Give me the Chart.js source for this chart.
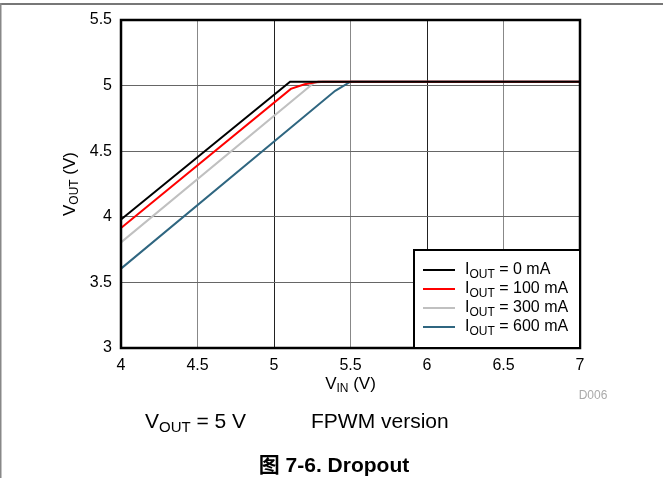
<!DOCTYPE html>
<html>
<head>
<meta charset="utf-8">
<script src="https://cdn.jsdelivr.net/npm/chart.js@4.4.1/dist/chart.umd.min.js"></script>
<style>
  html, body { margin: 0; padding: 0; background: #fff; }
  #wrap { width: 663px; height: 478px; }
</style>
</head>
<body>
<div id="wrap"><canvas id="dropout" width="663" height="478"></canvas></div>
<script>
// series data (VIN in V, VOUT in V)
const seriesLabels = ['0 mA', '100 mA', '300 mA', '600 mA'];
const seriesColors = ['#000000', '#ff0000', '#c0c0c0', '#2f6680'];

const vin0 = [4, 5.105, 7];
const vout0 = [3.98, 5.03, 5.03];
const vin100 = [4, 5.11, 5.2, 5.29, 7];
const vout100 = [3.915, 4.975, 5.01, 5.03, 5.03];
const vin300 = [4, 5.26, 5.32, 7];
const vout300 = [3.805, 5.02, 5.03, 5.03];
const vin600 = [4, 5.4, 5.5, 7];
const vout600 = [3.605, 4.96, 5.03, 5.03];

const xTicks = [4, 4.5, 5, 5.5, 6, 6.5, 7];
const yTicks = [3, 3.5, 4, 4.5, 5, 5.5];

const FONT = '"Liberation Sans", Arial, "Noto Sans CJK SC", sans-serif';

function toPoints(xs, ys) {
    return xs.map((x, i) => ({ x: x, y: ys[i] }));
}

// text with subscripts: parts = [[text, isSub], ...]
function drawRich(ctx, parts, x, y, align, size, bold) {
    const subSize = Math.round(size * 0.72);
    const w = bold ? 'bold ' : '';
    let total = 0;
    parts.forEach(p => {
        ctx.font = w + (p[1] ? subSize : size) + 'px ' + FONT;
        total += ctx.measureText(p[0]).width;
    });
    let cx = x;
    if (align === 'center') cx = x - total / 2;
    if (align === 'right') cx = x - total;
    ctx.textAlign = 'left';
    ctx.textBaseline = 'middle';
    parts.forEach(p => {
        ctx.font = w + (p[1] ? subSize : size) + 'px ' + FONT;
        ctx.fillText(p[0], cx, p[1] ? y + size * 0.28 : y);
        cx += ctx.measureText(p[0]).width;
    });
}

const pagePlugin = {
    id: 'page',
    beforeDraw(chart) {
        const ctx = chart.ctx;
        ctx.save();
        ctx.fillStyle = '#fff';
        ctx.fillRect(0, 0, chart.width, chart.height);
        ctx.fillStyle = '#777';
        ctx.fillRect(0, 3, chart.width, 2);
        ctx.fillStyle = '#888';
        ctx.fillRect(0, 3, 1.5, chart.height);
        ctx.restore();
    },
    afterDraw(chart) {
        const ctx = chart.ctx;
        const a = chart.chartArea;
        ctx.save();

        // plot frame
        ctx.strokeStyle = '#000';
        ctx.lineWidth = 2.5;
        ctx.strokeRect(a.left, a.top, a.right - a.left, a.bottom - a.top);

        // legend box, bottom right
        const lx = 414, ly = 250;
        ctx.fillStyle = '#fff';
        ctx.fillRect(lx, ly, a.right - lx, a.bottom - ly);
        ctx.lineWidth = 2;
        ctx.strokeRect(lx, ly, a.right - lx, a.bottom - ly);
        chart.data.datasets.forEach((ds, i) => {
            const ry = 270 + i * 19;
            ctx.strokeStyle = ds.borderColor;
            ctx.lineWidth = 2;
            ctx.beginPath();
            ctx.moveTo(423, ry);
            ctx.lineTo(455, ry);
            ctx.stroke();
            ctx.fillStyle = '#000';
            drawRich(ctx, [['I', false], ['OUT', true], [' = ' + seriesLabels[i], false]], 465, ry, 'left', 16);
        });

        // axis titles
        ctx.fillStyle = '#000';
        drawRich(ctx, [['V', false], ['IN', true], [' (V)', false]], (a.left + a.right) / 2, 384, 'center', 17);
        ctx.save();
        ctx.translate(70, (a.top + a.bottom) / 2);
        ctx.rotate(-Math.PI / 2);
        drawRich(ctx, [['V', false], ['OUT', true], [' (V)', false]], 0, 0, 'center', 17);
        ctx.restore();

        // figure id
        ctx.fillStyle = '#aaa';
        ctx.font = '12px ' + FONT;
        ctx.textAlign = 'center';
        ctx.textBaseline = 'middle';
        ctx.fillText('D006', 593, 396);

        // conditions and caption
        ctx.fillStyle = '#000';
        drawRich(ctx, [['V', false], ['OUT', true], [' = 5 V', false]], 145, 422, 'left', 21);
        drawRich(ctx, [['FPWM version', false]], 311, 422, 'left', 21);
        drawRich(ctx, [['图 7-6. Dropout', false]], 334, 466, 'center', 21, true);

        ctx.restore();
    }
};

const datasets = [
    toPoints(vin0, vout0),
    toPoints(vin100, vout100),
    toPoints(vin300, vout300),
    toPoints(vin600, vout600)
].map((pts, i) => ({
    label: 'IOUT = ' + seriesLabels[i],
    data: pts,
    borderColor: seriesColors[i],
    backgroundColor: seriesColors[i],
    borderWidth: 2,
    pointRadius: 0,
    showLine: true,
    tension: 0
}));

new Chart(document.getElementById('dropout').getContext('2d'), {
    type: 'scatter',
    data: { datasets: datasets },
    options: {
        responsive: false,
        animation: false,
        layout: { padding: { left: 0, top: 20, right: 83, bottom: 100 } },
        plugins: {
            legend: { display: false },
            tooltip: { enabled: false }
        },
        scales: {
            x: {
                type: 'linear',
                min: xTicks[0],
                max: xTicks[xTicks.length - 1],
                afterBuildTicks: s => { s.ticks = xTicks.map(v => ({ value: v })); },
                afterFit: s => { s.height = 30; },
                ticks: {
                    color: '#000',
                    padding: 8,
                    autoSkip: false,
                    maxRotation: 0,
                    font: { family: FONT, size: 16 },
                    callback: v => String(+v.toFixed(1))
                },
                grid: {
                    drawTicks: false,
                    color: c => (c.tick && Number.isInteger(c.tick.value)) ? '#222' : '#888',
                    lineWidth: 1
                },
                border: { display: false }
            },
            y: {
                type: 'linear',
                min: yTicks[0],
                max: yTicks[yTicks.length - 1],
                afterBuildTicks: s => { s.ticks = yTicks.map(v => ({ value: v })); },
                afterFit: s => { s.width = 121; },
                ticks: {
                    color: '#000',
                    padding: 9,
                    font: { family: FONT, size: 16 },
                    callback: v => String(+v.toFixed(1))
                },
                grid: {
                    drawTicks: false,
                    color: '#666',
                    lineWidth: 1
                },
                border: { display: false }
            }
        }
    },
    plugins: [pagePlugin]
});
</script>
</body>
</html>
